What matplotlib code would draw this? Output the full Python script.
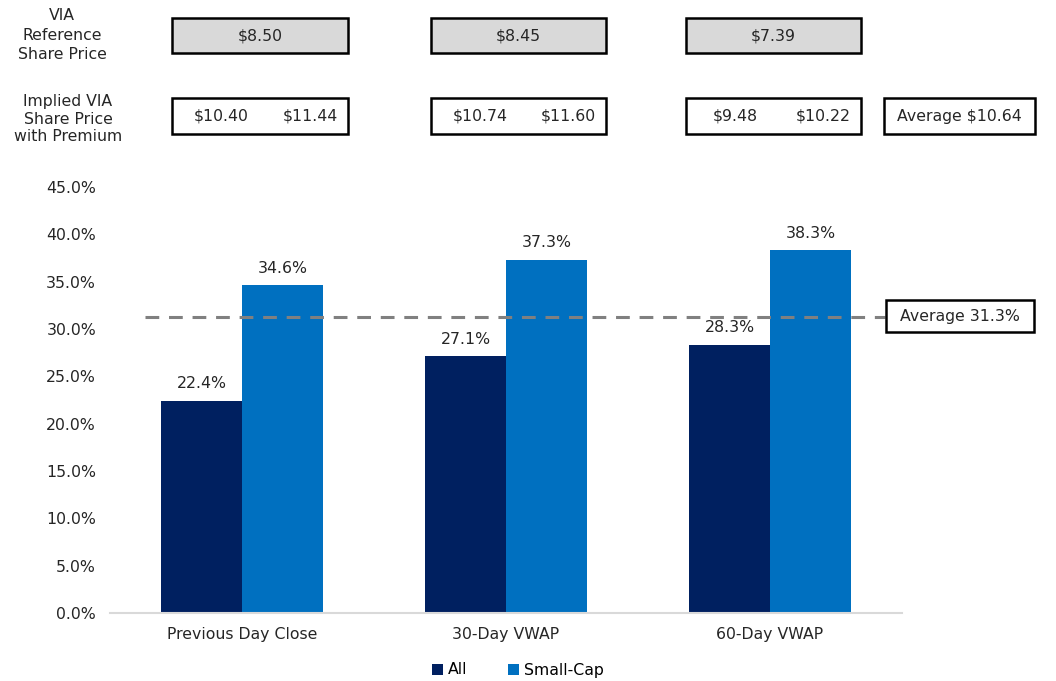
import matplotlib
matplotlib.use("Agg")
import matplotlib.pyplot as plt
import numpy as np
from matplotlib.patches import Rectangle, Patch

plt.rcParams['font.family'] = ['DejaVu Sans']

categories = ["Previous Day Close", "30-Day VWAP", "60-Day VWAP"]
series_names = ["All", "Small-Cap"]
all_premium = [22.4, 27.1, 28.3]
small_cap_premium = [34.6, 37.3, 38.3]
average_premium = 31.3
y_ticks = [0, 5, 10, 15, 20, 25, 30, 35, 40, 45]

reference_prices = ["$8.50", "$8.45", "$7.39"]
implied_low = ["$10.40", "$10.74", "$9.48"]
implied_high = ["$11.44", "$11.60", "$10.22"]
average_implied = "$10.64"

colors = ["#002060", "#0070C0"]
W, H = 1056, 681
FS = 11.3
TXT = "#262626"

fig = plt.figure(figsize=(W / 100, H / 100), dpi=100)
ax = fig.add_axes([110 / W, (H - 613) / H, 792 / W, 426 / H])

x = np.arange(len(categories))
bw = 0.307
b1 = ax.bar(x - bw / 2, all_premium, bw, color=colors[0], label=series_names[0])
b2 = ax.bar(x + bw / 2, small_cap_premium, bw, color=colors[1], label=series_names[1])

for bars, vals in ((b1, all_premium), (b2, small_cap_premium)):
    for rect, v in zip(bars, vals):
        ax.annotate(f"{v:.1f}%", (rect.get_x() + rect.get_width() / 2, v),
                    xytext=(0, 7), textcoords="offset points",
                    ha="center", va="bottom", fontsize=FS, color=TXT)

ax.axhline(average_premium, xmin=35 / 792, xmax=775 / 792, color="#808080",
           lw=2.2, ls=(0, (4.5, 3.2)), zorder=1)

ax.set_xlim(-0.5, 2.5)
ax.set_ylim(0, 45)
ax.set_yticks(y_ticks)
ax.set_yticklabels([f"{t:.1f}%" for t in y_ticks])
ax.set_xticks(x)
ax.set_xticklabels(categories)
ax.tick_params(axis="both", length=0, labelsize=FS, labelcolor=TXT)
ax.tick_params(axis="y", pad=10)
ax.tick_params(axis="x", pad=10)
for s in ("top", "right", "left"):
    ax.spines[s].set_visible(False)
ax.spines["bottom"].set_color("#D9D9D9")
ax.spines["bottom"].set_linewidth(1.5)


def fig_box(x0, y0, x1, y1, face):
    fig.add_artist(Rectangle((x0 / W, 1 - y1 / H), (x1 - x0) / W, (y1 - y0) / H,
                             transform=fig.transFigure, facecolor=face,
                             edgecolor="black", lw=1.8))


def fig_text(xp, yp, s, **kw):
    fig.text(xp / W, 1 - yp / H, s, ha="center", va="center", fontsize=FS,
             color=TXT, **kw)


box_x = [(172, 348), (431, 606), (686, 861)]
for (x0, x1), ref, lo, hi in zip(box_x, reference_prices, implied_low, implied_high):
    fig_box(x0, 18, x1, 53, "#D9D9D9")
    fig_text((x0 + x1) / 2, 36, ref)
    fig_box(x0, 98, x1, 134, "white")
    fig_text(x0 + 49, 116, lo)
    fig_text(x1 - 38, 116, hi)

fig_box(884, 98, 1035, 134, "white")
fig_text(959.5, 116, f"Average {average_implied}")

fig_box(886, 300, 1034, 332, "white")
fig_text(960, 316, f"Average {average_premium:.1f}%")

fig_text(62, 35, "VIA\nReference\nShare Price", linespacing=1.35)
fig_text(68, 119, "Implied VIA\nShare Price\nwith Premium", linespacing=1.2)

handles = [Patch(facecolor=c, label=n) for c, n in zip(colors, series_names)]
fig.legend(handles=handles, loc="center", bbox_to_anchor=(518 / W, 1 - 670 / H),
           ncol=2, frameon=False, fontsize=FS, handlelength=0.7, handleheight=0.7,
           handletextpad=0.3, columnspacing=2.6)

fig.savefig("out.png", dpi=100)
